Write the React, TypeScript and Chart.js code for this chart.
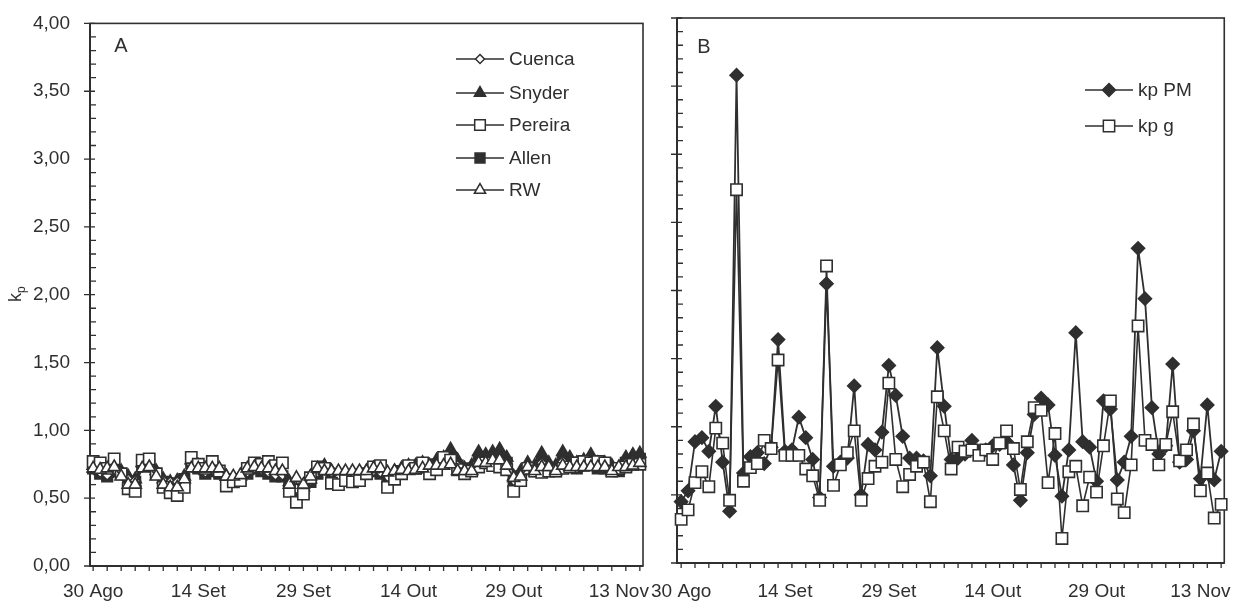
import React, { useEffect, useRef } from 'react';
import { Chart, registerables } from 'chart.js';
Chart.register(...registerables);

// ---- Data ----
const dayTickLabels = ['30 Ago', '14 Set', '29 Set', '14 Out', '29 Out', '13 Nov'];
const dayTickIndex = [0, 15, 30, 45, 60, 75];
const yTickValues = [0, 0.5, 1, 1.5, 2, 2.5, 3, 3.5, 4];

// Panel A (kp by method)
const cuenca = [
  0.72, 0.69, 0.67, 0.71, 0.69, 0.64, 0.63, 0.73, 0.73, 0.69,
  0.63, 0.62, 0.62, 0.65, 0.75, 0.72, 0.69, 0.71, 0.69, 0.65,
  0.63, 0.65, 0.69, 0.72, 0.71, 0.69, 0.67, 0.67, 0.61, 0.57,
  0.59, 0.63, 0.69, 0.71, 0.69, 0.65, 0.67, 0.65, 0.67, 0.69,
  0.70, 0.69, 0.66, 0.68, 0.70, 0.72, 0.72, 0.73, 0.72, 0.75,
  0.76, 0.79, 0.74, 0.71, 0.72, 0.77, 0.77, 0.78, 0.79, 0.75,
  0.63, 0.67, 0.72, 0.71, 0.76, 0.72, 0.71, 0.77, 0.75, 0.72,
  0.74, 0.76, 0.73, 0.73, 0.71, 0.71, 0.76, 0.77, 0.78,
];
const snyder = [
  0.74, 0.70, 0.68, 0.72, 0.70, 0.66, 0.64, 0.76, 0.76, 0.70,
  0.64, 0.62, 0.63, 0.66, 0.78, 0.74, 0.70, 0.72, 0.70, 0.66,
  0.64, 0.66, 0.70, 0.74, 0.72, 0.70, 0.68, 0.68, 0.62, 0.56,
  0.58, 0.64, 0.70, 0.74, 0.70, 0.66, 0.68, 0.66, 0.68, 0.70,
  0.72, 0.70, 0.68, 0.70, 0.72, 0.74, 0.74, 0.76, 0.74, 0.78,
  0.80, 0.86, 0.78, 0.72, 0.74, 0.84, 0.82, 0.84, 0.86, 0.80,
  0.66, 0.70, 0.76, 0.74, 0.83, 0.76, 0.74, 0.84, 0.80, 0.76,
  0.78, 0.82, 0.76, 0.76, 0.74, 0.72, 0.80, 0.82, 0.83,
];
const pereira = [
  0.77, 0.76, 0.72, 0.79, 0.68, 0.57, 0.55, 0.78, 0.79, 0.68,
  0.58, 0.54, 0.52, 0.58, 0.80, 0.75, 0.72, 0.77, 0.70, 0.59,
  0.62, 0.63, 0.72, 0.76, 0.75, 0.77, 0.74, 0.76, 0.55, 0.47,
  0.53, 0.65, 0.73, 0.72, 0.61, 0.60, 0.63, 0.62, 0.63, 0.68,
  0.73, 0.74, 0.58, 0.64, 0.68, 0.74, 0.72, 0.76, 0.68, 0.71,
  0.80, 0.78, 0.71, 0.68, 0.70, 0.73, 0.76, 0.74, 0.73, 0.71,
  0.55, 0.63, 0.72, 0.70, 0.69, 0.70, 0.70, 0.72, 0.73, 0.76,
  0.77, 0.76, 0.77, 0.76, 0.70, 0.72, 0.73, 0.75, 0.75,
];
const allen = [
  0.72, 0.68, 0.66, 0.70, 0.68, 0.62, 0.62, 0.74, 0.74, 0.68,
  0.62, 0.60, 0.61, 0.64, 0.76, 0.72, 0.68, 0.70, 0.68, 0.64,
  0.62, 0.64, 0.68, 0.72, 0.70, 0.68, 0.66, 0.66, 0.60, 0.55,
  0.57, 0.62, 0.68, 0.72, 0.68, 0.64, 0.66, 0.64, 0.66, 0.68,
  0.70, 0.68, 0.64, 0.66, 0.70, 0.72, 0.72, 0.74, 0.72, 0.75,
  0.77, 0.80, 0.74, 0.70, 0.72, 0.78, 0.78, 0.80, 0.80, 0.76,
  0.62, 0.66, 0.72, 0.70, 0.76, 0.72, 0.70, 0.78, 0.76, 0.72,
  0.74, 0.76, 0.72, 0.72, 0.70, 0.70, 0.76, 0.78, 0.79,
];
const rw = [
  0.72, 0.71, 0.72, 0.73, 0.66, 0.60, 0.60, 0.72, 0.73, 0.66,
  0.60, 0.58, 0.58, 0.64, 0.72, 0.72, 0.72, 0.72, 0.72, 0.66,
  0.66, 0.67, 0.72, 0.73, 0.72, 0.72, 0.70, 0.70, 0.60, 0.65,
  0.60, 0.66, 0.72, 0.70, 0.70, 0.70, 0.70, 0.70, 0.70, 0.70,
  0.72, 0.72, 0.69, 0.70, 0.71, 0.70, 0.71, 0.72, 0.74, 0.74,
  0.74, 0.75, 0.70, 0.70, 0.70, 0.76, 0.76, 0.78, 0.78, 0.74,
  0.65, 0.66, 0.73, 0.70, 0.73, 0.73, 0.70, 0.74, 0.73, 0.73,
  0.73, 0.73, 0.73, 0.73, 0.70, 0.73, 0.73, 0.74, 0.76,
];

// Panel B
const kpPM = [
  0.45, 0.53, 0.89, 0.92, 0.82, 1.15, 0.74, 0.38, 3.58, 0.66,
  0.78, 0.81, 0.73, 0.85, 1.64, 0.82, 0.83, 1.07, 0.92, 0.76,
  0.48, 2.05, 0.71, 0.74, 0.77, 1.30, 0.50, 0.87, 0.83, 0.96,
  1.45, 1.23, 0.93, 0.77, 0.77, 0.75, 0.64, 1.58, 1.15, 0.76,
  0.77, 0.80, 0.90, 0.82, 0.83, 0.86, 0.87, 0.89, 0.72, 0.46,
  0.81, 1.09, 1.21, 1.16, 0.79, 0.49, 0.83, 1.69, 0.89, 0.85,
  0.60, 1.19, 1.13, 0.61, 0.74, 0.93, 2.31, 1.94, 1.14, 0.80,
  0.86, 1.46, 0.74, 0.76, 0.97, 0.62, 1.16, 0.61, 0.82,
];
const kpG = [
  0.32, 0.39, 0.59, 0.67, 0.56, 0.99, 0.88, 0.46, 2.74, 0.60,
  0.70, 0.73, 0.90, 0.84, 1.49, 0.79, 0.79, 0.79, 0.69, 0.64,
  0.46, 2.18, 0.57, 0.72, 0.81, 0.97, 0.46, 0.62, 0.71, 0.74,
  1.32, 0.76, 0.56, 0.65, 0.71, 0.74, 0.45, 1.22, 0.97, 0.69,
  0.85, 0.82, 0.83, 0.79, 0.83, 0.76, 0.88, 0.97, 0.84, 0.54,
  0.89, 1.14, 1.12, 0.59, 0.95, 0.18, 0.67, 0.71, 0.42, 0.63,
  0.52, 0.86, 1.19, 0.47, 0.37, 0.72, 1.74, 0.90, 0.87, 0.72,
  0.87, 1.11, 0.75, 0.83, 1.02, 0.53, 0.66, 0.33, 0.43,
];

const INK = '#2f2f2f';
const FONT = "'Liberation Sans', Arial, sans-serif";

const toPts = (arr: number[]) => arr.map((v, i) => ({ x: i, y: v }));

function drawMarker(ctx: CanvasRenderingContext2D, style: string, x: number, y: number, r: number, filled: boolean, lw: number) {
  ctx.save();
  ctx.beginPath();
  if (style === 'rect') {
    const s = r * Math.SQRT1_2;
    ctx.rect(x - s, y - s, 2 * s, 2 * s);
  } else if (style === 'rectRot') {
    ctx.moveTo(x, y - r);
    ctx.lineTo(x + r, y);
    ctx.lineTo(x, y + r);
    ctx.lineTo(x - r, y);
    ctx.closePath();
  } else if (style === 'triangle') {
    let a = 0;
    ctx.moveTo(x + Math.sin(a) * r, y - Math.cos(a) * r);
    a += (2 * Math.PI) / 3;
    ctx.lineTo(x + Math.sin(a) * r, y - Math.cos(a) * r);
    a += (2 * Math.PI) / 3;
    ctx.lineTo(x + Math.sin(a) * r, y - Math.cos(a) * r);
    ctx.closePath();
  }
  ctx.fillStyle = filled ? INK : '#ffffff';
  ctx.strokeStyle = INK;
  ctx.lineWidth = lw;
  ctx.fill();
  ctx.stroke();
  ctx.restore();
}

type LegendEntry = { label: string; style: string; r: number; filled: boolean };

function framePlugin(id: string) {
  return {
    id,
    beforeDatasetsDraw(chart: any) {
      const ctx: CanvasRenderingContext2D = chart.ctx;
      const { left, right, top, bottom } = chart.chartArea;
      const xs = chart.scales.x;
      const ys = chart.scales.y;
      ctx.save();
      ctx.strokeStyle = INK;
      ctx.lineWidth = 1.6;
      ctx.strokeRect(left, top, right - left, bottom - top);
      ctx.lineWidth = 2;
      ctx.beginPath();
      ctx.moveTo(left, top);
      ctx.lineTo(left, bottom);
      ctx.lineTo(right, bottom);
      ctx.stroke();
      ctx.lineWidth = 1.3;
      ctx.beginPath();
      for (let k = 0; k <= 40; k++) {
        const py = ys.getPixelForValue(k / 10);
        const major = k % 5 === 0;
        ctx.moveTo(left - (major ? 6 : 0), py);
        ctx.lineTo(left + (major ? 5 : 6), py);
      }
      for (let i = 0; i < kpG.length; i += 2) {
        const px = xs.getPixelForValue(i);
        ctx.moveTo(px, bottom);
        ctx.lineTo(px, bottom + 5);
      }
      ctx.stroke();
      ctx.restore();
    },
  };
}

function overlayPlugin(id: string, panel: string, letterPos: [number, number], legend: LegendEntry[], legendX: number, legendYs: number[], withTitle: boolean) {
  return {
    id,
    afterDraw(chart: any) {
      const ctx: CanvasRenderingContext2D = chart.ctx;
      ctx.save();
      ctx.fillStyle = INK;
      ctx.font = `20px ${FONT}`;
      ctx.textAlign = 'center';
      ctx.textBaseline = 'middle';
      ctx.fillText(panel, letterPos[0], letterPos[1]);
      // legend
      ctx.font = `19px ${FONT}`;
      ctx.textAlign = 'left';
      legend.forEach((e, i) => {
        const y = legendYs[i];
        ctx.strokeStyle = INK;
        ctx.lineWidth = 1.6;
        ctx.beginPath();
        ctx.moveTo(legendX, y);
        ctx.lineTo(legendX + 48, y);
        ctx.stroke();
        drawMarker(ctx, e.style, legendX + 24, y, e.r, e.filled, 1.5);
        ctx.fillStyle = INK;
        ctx.fillText(e.label, legendX + 53, y + 1);
      });
      if (withTitle) {
        ctx.save();
        ctx.translate(21, 302);
        ctx.rotate(-Math.PI / 2);
        ctx.textAlign = 'left';
        ctx.textBaseline = 'alphabetic';
        ctx.font = `18px ${FONT}`;
        ctx.fillText('k', 0, 0);
        ctx.font = `12px ${FONT}`;
        ctx.fillText('p', 9, 4);
        ctx.restore();
      }
      ctx.restore();
    },
  };
}

function xScale(min: number, max: number, height: number, pad: number) {
  return {
    type: 'linear',
    min,
    max,
    grid: { display: false },
    border: { display: false },
    afterBuildTicks: (s: any) => {
      s.ticks = dayTickIndex.map((v) => ({ value: v }));
    },
    afterFit: (s: any) => {
      s.height = height;
    },
    ticks: {
      autoSkip: false,
      maxRotation: 0,
      padding: pad,
      color: INK,
      font: { family: FONT, size: 19 },
      callback: (v: number) => {
        const k = dayTickIndex.indexOf(v);
        return k >= 0 ? dayTickLabels[k] : '';
      },
    },
  };
}

function yScale(width: number, showLabels: boolean) {
  return {
    type: 'linear',
    min: 0,
    max: 4,
    grid: { display: false },
    border: { display: false },
    afterBuildTicks: (s: any) => {
      s.ticks = yTickValues.map((v) => ({ value: v }));
    },
    afterFit: (s: any) => {
      s.width = width;
    },
    ticks: {
      display: showLabels,
      padding: 12,
      color: INK,
      font: { family: FONT, size: 19 },
      callback: (v: number) => v.toFixed(2).replace('.', ','),
    },
  };
}

const lineDs = (label: string, data: number[], style: string, r: number, filled: boolean, order: number) => ({
  label,
  data: toPts(data),
  borderColor: INK,
  borderWidth: 1.8,
  pointStyle: style,
  pointRadius: r,
  pointBackgroundColor: filled ? INK : '#ffffff',
  pointBorderColor: INK,
  pointBorderWidth: 1.6,
  tension: 0,
  clip: false,
  order,
});

export default function App() {
  const refA = useRef<HTMLCanvasElement>(null);
  const refB = useRef<HTMLCanvasElement>(null);

  useEffect(() => {
    const legendA: LegendEntry[] = [
      { label: 'Cuenca', style: 'rectRot', r: 4.5, filled: false },
      { label: 'Snyder', style: 'triangle', r: 6.5, filled: true },
      { label: 'Pereira', style: 'rect', r: 7.5, filled: false },
      { label: 'Allen', style: 'rect', r: 7, filled: true },
      { label: 'RW', style: 'triangle', r: 6.5, filled: false },
    ];
    const legendB: LegendEntry[] = [
      { label: 'kp PM', style: 'rectRot', r: 6.5, filled: true },
      { label: 'kp g', style: 'rect', r: 8, filled: false },
    ];

    // Canvas A spans 0..720, canvas B spans 580..1240 (transparent overlap)
    const chartA = new Chart(refA.current as HTMLCanvasElement, {
      type: 'line',
      data: {
        datasets: [
          lineDs('Snyder', snyder, 'triangle', 7, true, 5),
          lineDs('Allen', allen, 'rect', 7.5, true, 4),
          lineDs('Cuenca', cuenca, 'rectRot', 5, false, 3),
          lineDs('Pereira', pereira, 'rect', 8, false, 2),
          lineDs('RW', rw, 'triangle', 7, false, 1),
        ] as any,
      },
      options: {
        responsive: false,
        animation: false,
        events: [],
        layout: { padding: { top: 22, right: 77, bottom: 0, left: 0 } },
        plugins: { legend: { display: false }, tooltip: { enabled: false } },
        scales: {
          x: xScale(-0.45, 78.45, 36, 6),
          y: yScale(90, true),
        } as any,
      },
      plugins: [framePlugin('frameA'), overlayPlugin('overA', 'A', [121, 46], legendA, 456, [59, 93, 125, 158, 190], true)],
    } as any);

    const chartB = new Chart(refB.current as HTMLCanvasElement, {
      type: 'line',
      data: {
        datasets: [
          { ...lineDs('kp PM', kpPM, 'rectRot', 6.5, true, 2), borderWidth: 1.8 },
          { ...lineDs('kp g', kpG, 'rect', 8, false, 1), borderWidth: 1.6 },
        ] as any,
      },
      options: {
        responsive: false,
        animation: false,
        events: [],
        layout: { padding: { top: 18, right: 12, bottom: 0, left: 0 } },
        plugins: { legend: { display: false }, tooltip: { enabled: false } },
        scales: {
          x: xScale(-0.6, 78.45, 39, 9),
          y: yScale(97, false),
        } as any,
      },
      plugins: [framePlugin('frameB'), overlayPlugin('overB', 'B', [124, 47], legendB, 505, [90, 126], false)],
    } as any);

    return () => {
      chartA.destroy();
      chartB.destroy();
    };
  }, []);

  return (
    <div style={{ position: 'fixed', left: 0, top: 0, width: 1240, height: 602, background: '#ffffff' }}>
      <canvas ref={refA} width={720} height={602} style={{ position: 'absolute', left: 0, top: 0 }} />
      <canvas ref={refB} width={660} height={602} style={{ position: 'absolute', left: 580, top: 0 }} />
    </div>
  );
}
